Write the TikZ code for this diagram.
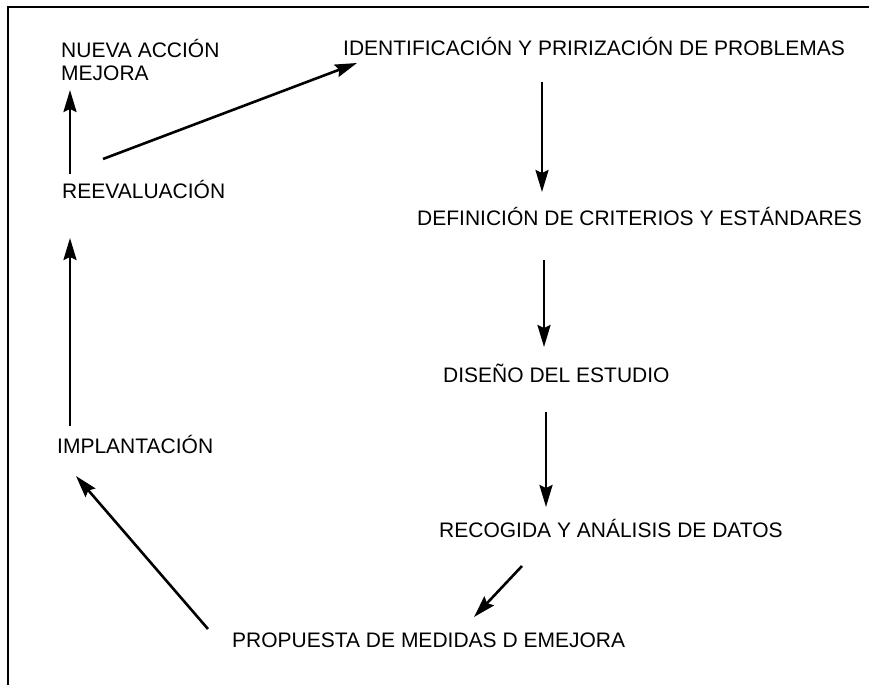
\documentclass[tikz,border=0pt]{standalone}
\usepackage{fontspec}
\setmainfont{Liberation Sans}
\usetikzlibrary{arrows.meta}
\tikzset{
  lbl/.style={anchor=base west, inner sep=0pt, font=\fontsize{21}{23}\selectfont, align=left},
  conn/.style={line width=2.6pt, -{Stealth[length=22pt,width=13pt,inset=3pt]}},
  frameline/.style={line width=2pt}
}
\begin{document}
\begin{tikzpicture}[x=1pt,y=-1pt]
\useasboundingbox (0,0) rectangle (869,685);
\draw[frameline] (8,685) -- (8,7) -- (869,7);

\node[lbl] (nueva)  at (61,80)   {NUEVA ACCIÓN\\MEJORA};
\node[lbl] (reev)   at (62,198)  {REEVALUACIÓN};
\node[lbl] (ident)  at (343,56)  {IDENTIFICACIÓN Y PRIRIZACIÓN DE PROBLEMAS};
\node[lbl] (def)    at (417,225) {DEFINICIÓN DE CRITERIOS Y ESTÁNDARES};
\node[lbl] (diseno) at (443,382) {DISEÑO DEL ESTUDIO};
\node[lbl] (recog)  at (439,537) {RECOGIDA Y ANÁLISIS DE DATOS};
\node[lbl] (prop)   at (232,647) {PROPUESTA DE MEDIDAS D EMEJORA};
\node[lbl] (impl)   at (57,453)  {IMPLANTACIÓN};

\draw[conn] ([shift={(8,-24)}]reev.base west) -- ([shift={(9,10)}]nueva.base west);
\draw[conn] ([shift={(41,-39)}]reev.base west) -- ([shift={(14,7)}]ident.base west);
\draw[conn] ([shift={(199,26)}]ident.base west) -- ([shift={(125,-33)}]def.base west);
\draw[conn] ([shift={(127,35)}]def.base west) -- ([shift={(101,-35)}]diseno.base west);
\draw[conn] ([shift={(103,30)}]diseno.base west) -- ([shift={(107,-30)}]recog.base west);
\draw[conn] ([shift={(83,29)}]recog.base west) -- ([shift={(242,-30)}]prop.base west);
\draw[conn] ([shift={(-24,-18)}]prop.base west) -- ([shift={(19,23)}]impl.base west);
\draw[conn] ([shift={(13,-27)}]impl.base west) -- ([shift={(8,40)}]reev.base west);
\end{tikzpicture}
\end{document}
